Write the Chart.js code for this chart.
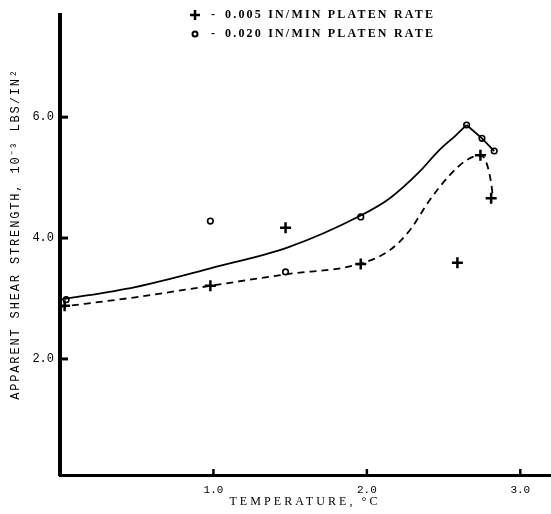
<!DOCTYPE html>
<html>
<head>
<meta charset="utf-8">
<script src="https://cdn.jsdelivr.net/npm/chart.js@4/dist/chart.umd.min.js"></script>
<style>
  html, body { margin: 0; padding: 0; background: #fff; overflow: hidden; width: 551px; height: 514px; }
  #wrap { width: 559px; height: 514px; position: relative; }
  #c { display: block; }
</style>
</head>
<body>
<div id="wrap"><canvas id="c"></canvas></div>
<script>
// ---- Data ----
const crossTemps      = [0.03, 0.98, 1.47, 1.96, 2.59, 2.74, 2.81];
const crossStrengths  = [2.88, 3.21, 4.17, 3.57, 3.59, 5.37, 4.66];
const circleTemps     = [0.04, 0.98, 1.47, 1.96, 2.65, 2.75, 2.83];
const circleStrengths = [2.98, 4.28, 3.44, 4.35, 5.87, 5.65, 5.44];

const solidCurveTemps     = [0, 0.49, 0.98, 1.49, 1.95, 2.15, 2.34, 2.47, 2.58, 2.65];
const solidCurveStrengths = [2.98, 3.19, 3.50, 3.85, 4.36, 4.66, 5.09, 5.45, 5.70, 5.87];
const solidTailTemps      = [2.65, 2.75, 2.83];
const solidTailStrengths  = [5.87, 5.65, 5.44];

const dashedCurveTemps     = [0, 0.49, 0.98, 1.47, 1.95, 2.15, 2.28, 2.41, 2.54, 2.65, 2.74, 2.78, 2.81, 2.82];
const dashedCurveStrengths = [2.86, 3.02, 3.21, 3.40, 3.57, 3.80, 4.13, 4.63, 5.04, 5.29, 5.37, 5.24, 4.91, 4.71];

const xTickValues = [1.0, 2.0, 3.0];
const yTickValues = [2.0, 4.0, 6.0];

const legendLabels = ['0.005 IN/MIN PLATEN RATE', '0.020 IN/MIN PLATEN RATE'];
const xTitle = 'TEMPERATURE, \u00B0C';
const yTitle = 'APPARENT SHEAR STRENGTH, 10\u207B\u00B3 LBS/IN\u00B2';

const pts = (xs, ys) => xs.map((x, i) => ({ x: x, y: ys[i] }));

function spacedText(ctx, text, x, y, target) {
  ctx.letterSpacing = '0px';
  const w = ctx.measureText(text).width;
  const sp = Math.max(0, (target - w) / Math.max(1, text.length - 1));
  ctx.letterSpacing = sp.toFixed(2) + 'px';
  ctx.fillText(text, x, y);
  ctx.letterSpacing = '0px';
}

const decor = {
  id: 'decor',
  afterDatasetsDraw(chart) {
    const ctx = chart.ctx;
    const xs = chart.scales.x, ys = chart.scales.y;
    const a = chart.chartArea;
    ctx.save();
    ctx.strokeStyle = '#000';
    ctx.lineCap = 'butt';
    ctx.lineWidth = 3;
    yTickValues.forEach(v => {
      const py = ys.getPixelForValue(v);
      ctx.beginPath(); ctx.moveTo(a.left, py); ctx.lineTo(a.left + 8, py); ctx.stroke();
    });
    ctx.lineWidth = 2.5;
    xTickValues.forEach(v => {
      const px = xs.getPixelForValue(v);
      ctx.beginPath(); ctx.moveTo(px, a.bottom); ctx.lineTo(px, a.bottom - 6); ctx.stroke();
    });
    ctx.restore();
  },
  afterDraw(chart) {
    const ctx = chart.ctx;
    const a = chart.chartArea;
    ctx.save();
    ctx.fillStyle = '#000';
    ctx.strokeStyle = '#000';
    // Legend
    const lx = 195, ly1 = 15, ly2 = 34;
    ctx.lineWidth = 2.5;
    ctx.beginPath();
    ctx.moveTo(lx - 5, ly1); ctx.lineTo(lx + 5, ly1);
    ctx.moveTo(lx, ly1 - 5); ctx.lineTo(lx, ly1 + 5);
    ctx.stroke();
    ctx.lineWidth = 2;
    ctx.beginPath(); ctx.arc(lx, ly2, 2.5, 0, Math.PI * 2); ctx.stroke();
    ctx.font = 'bold 12px "Liberation Serif"';
    ctx.textBaseline = 'middle';
    ctx.textAlign = 'left';
    [ly1, ly2].forEach((yy, i) => {
      ctx.fillText('-', 211, yy);
      spacedText(ctx, legendLabels[i], 225, yy, 208);
    });
    // X title
    ctx.font = '12px "Liberation Serif"';
    ctx.textAlign = 'center';
    ctx.textBaseline = 'middle';
    spacedText(ctx, xTitle, 305, a.bottom + 27, 148);
    // Y title
    ctx.translate(16, a.top + 219);
    ctx.rotate(-Math.PI / 2);
    ctx.font = '12px "Liberation Mono"';
    spacedText(ctx, yTitle, 0, 0, 330);
    ctx.restore();
  }
};

new Chart(document.getElementById('c'), {
  type: 'scatter',
  data: {
    datasets: [
      {
        label: 'solid',
        type: 'line',
        data: pts(solidCurveTemps, solidCurveStrengths),
        borderColor: '#000', borderWidth: 1.8,
        pointRadius: 0, fill: false,
        cubicInterpolationMode: 'monotone'
      },
      {
        label: 'solidTail',
        type: 'line',
        data: pts(solidTailTemps, solidTailStrengths),
        borderColor: '#000', borderWidth: 1.8,
        pointRadius: 0, fill: false, tension: 0
      },
      {
        label: 'dashed',
        type: 'line',
        data: pts(dashedCurveTemps, dashedCurveStrengths),
        borderColor: '#000', borderWidth: 1.8, borderDash: [7, 5],
        pointRadius: 0, fill: false,
        cubicInterpolationMode: 'monotone'
      },
      {
        label: '0.005 IN/MIN PLATEN RATE',
        data: pts(crossTemps, crossStrengths),
        pointStyle: 'cross', pointRadius: 5.5, hoverRadius: 5.5,
        borderColor: '#000', borderWidth: 2.5, showLine: false
      },
      {
        label: '0.020 IN/MIN PLATEN RATE',
        data: pts(circleTemps, circleStrengths),
        pointStyle: 'circle', pointRadius: 2.8, hoverRadius: 2.8,
        borderColor: '#000', backgroundColor: '#fff', borderWidth: 1.6, showLine: false
      }
    ]
  },
  options: {
    responsive: true,
    maintainAspectRatio: false,
    animation: false,
    events: [],
    layout: { padding: { top: 15, right: 0, left: 0, bottom: 0 } },
    plugins: { legend: { display: false }, tooltip: { enabled: false } },
    scales: {
      x: {
        type: 'linear', min: 0, max: 3.2,
        grid: { display: false, drawTicks: false, tickLength: 0 },
        border: { display: true, color: '#000', width: 3 },
        afterBuildTicks: s => { s.ticks = xTickValues.map(v => ({ value: v })); },
        afterFit: s => { s.height = 39; s.paddingLeft = 0; s.paddingRight = 0; },
        ticks: {
          color: '#000', padding: 8, maxRotation: 0,
          font: { family: '"Liberation Mono"', size: 11 },
          callback: v => Number(v).toFixed(1)
        }
      },
      y: {
        type: 'linear', min: 0.08, max: 7.69,
        grid: { display: false, drawTicks: false, tickLength: 0 },
        border: { display: true, color: '#000', width: 4 },
        afterBuildTicks: s => { s.ticks = yTickValues.map(v => ({ value: v })); },
        afterFit: s => { s.width = 60; s.paddingTop = 0; s.paddingBottom = 0; },
        ticks: {
          color: '#000', padding: 6,
          font: { family: '"Liberation Mono"', size: 12 },
          callback: v => Number(v).toFixed(1)
        }
      }
    }
  },
  plugins: [decor]
});
</script>
</body>
</html>
